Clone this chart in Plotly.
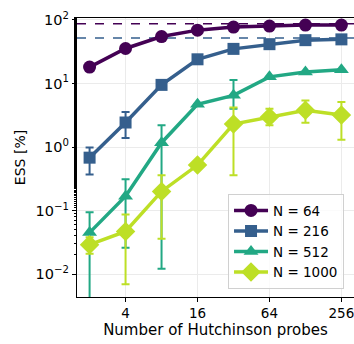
import plotly.graph_objects as go
import numpy as np

probes = [2, 4, 8, 16, 32, 64, 128, 256]
labels = ["N = 64", "N = 216", "N = 512", "N = 1000"]
colors = ["#440154", "#355f8d", "#22a884", "#bddf26"]
symbols = ["circle", "square", "triangle-up", "diamond"]

ess_64 = [18.1, 35.5, 54.7, 69, 77, 80, 83, 83]
ess_216 = [0.68, 2.43, 9.5, 24, 35, 41.5, 48, 49.4]
ess_512 = [0.045, 0.168, 1.17, 4.7, 6.5, 12.7, 15.1, 16.4]
ess_1000 = [0.029, 0.047, 0.20, 0.52, 2.3, 2.97, 3.8, 3.2]

hi_64 = [18.1, 35.5, 54.7, 69, 77, 80, 83, 83]
lo_64 = [18.1, 35.5, 54.7, 69, 77, 80, 83, 83]
hi_216 = [0.98, 3.55, 9.5, 24, 35, 41.5, 48, 49.4]
lo_216 = [0.37, 1.39, 9.5, 24, 35, 41.5, 48, 49.4]
hi_512 = [0.094, 0.31, 2.2, 4.7, 11.3, 12.7, 15.1, 16.4]
lo_512 = [0.0001, 0.026, 0.0122, 4.7, 4.0, 12.7, 15.1, 16.4]
hi_1000 = [0.038, 0.087, 0.36, 0.52, 4.2, 4.0, 5.4, 5.1]
lo_1000 = [0.021, 0.0069, 0.036, 0.52, 0.36, 2.2, 2.4, 1.3]

ref_64 = 87
ref_216 = 52

series = [
    (ess_64, hi_64, lo_64),
    (ess_216, hi_216, lo_216),
    (ess_512, hi_512, lo_512),
    (ess_1000, hi_1000, lo_1000),
]
msizes = [13, 12, 13, 15]

fig = go.Figure()
for ref, c in [(ref_64, colors[0]), (ref_216, colors[1])]:
    fig.add_hline(y=ref, line=dict(color=c, width=1.5, dash="dash"), layer="below")

for (y, hi, lo), name, c, s, ms in zip(series, labels, colors, symbols, msizes):
    y = np.array(y); hi = np.array(hi); lo = np.array(lo)
    fig.add_trace(go.Scatter(
        x=probes, y=y, name=name, mode="lines+markers",
        line=dict(color=c, width=3.5),
        marker=dict(color=c, symbol=s, size=ms, line=dict(width=0)),
        error_y=dict(type="data", symmetric=False, array=hi - y, arrayminus=y - lo,
                     color=c, thickness=2, width=4),
    ))

fig.update_layout(
    width=366, height=344,
    margin=dict(l=77, r=12, t=10, b=44),
    plot_bgcolor="white", paper_bgcolor="white",
    font=dict(family="DejaVu Sans", size=13.5, color="black"),
    showlegend=True,
    legend=dict(x=0.964, xanchor="right", y=0.028, yanchor="bottom",
                bordercolor="#d0d0d0", borderwidth=1, bgcolor="rgba(255,255,255,0.8)",
                font=dict(size=13.5), itemwidth=34, tracegroupgap=0),
)
fig.update_xaxes(
    type="log", range=[0.65 * np.log10(2), 8.35 * np.log10(2)],
    tickvals=[4, 16, 64, 256], ticktext=["4", "16", "64", "256"],
    showgrid=True, gridcolor="#ebebeb", gridwidth=1,
    showline=True, linecolor="black", linewidth=1.2, mirror=True,
    ticks="outside", ticklen=4, tickcolor="black",
    title=dict(text="Number of Hutchinson probes", font=dict(size=15), standoff=2),
    tickfont=dict(size=13.5),
    zeroline=False,
)
fig.update_yaxes(
    type="log", range=[-2.36, 2.03],
    tickvals=[0.01, 0.1, 1, 10, 100],
    ticktext=["10<sup>\u22122</sup>", "10<sup>\u22121</sup>", "10<sup>0</sup>", "10<sup>1</sup>", "10<sup>2</sup>"],
    showgrid=True, gridcolor="#ebebeb", gridwidth=1,
    showline=True, linecolor="black", linewidth=1.2, mirror=True,
    ticks="outside", ticklen=4, tickcolor="black",
    minor=dict(ticks="outside", ticklen=2, tickcolor="black", showgrid=False),
    title=dict(text="ESS [%]", font=dict(size=14), standoff=6),
    tickfont=dict(size=14.5),
    zeroline=False,
)

fig.write_html("out.html", config={"displayModeBar": False},
               post_script="document.body.style.margin='0';document.body.style.overflow='hidden';")
